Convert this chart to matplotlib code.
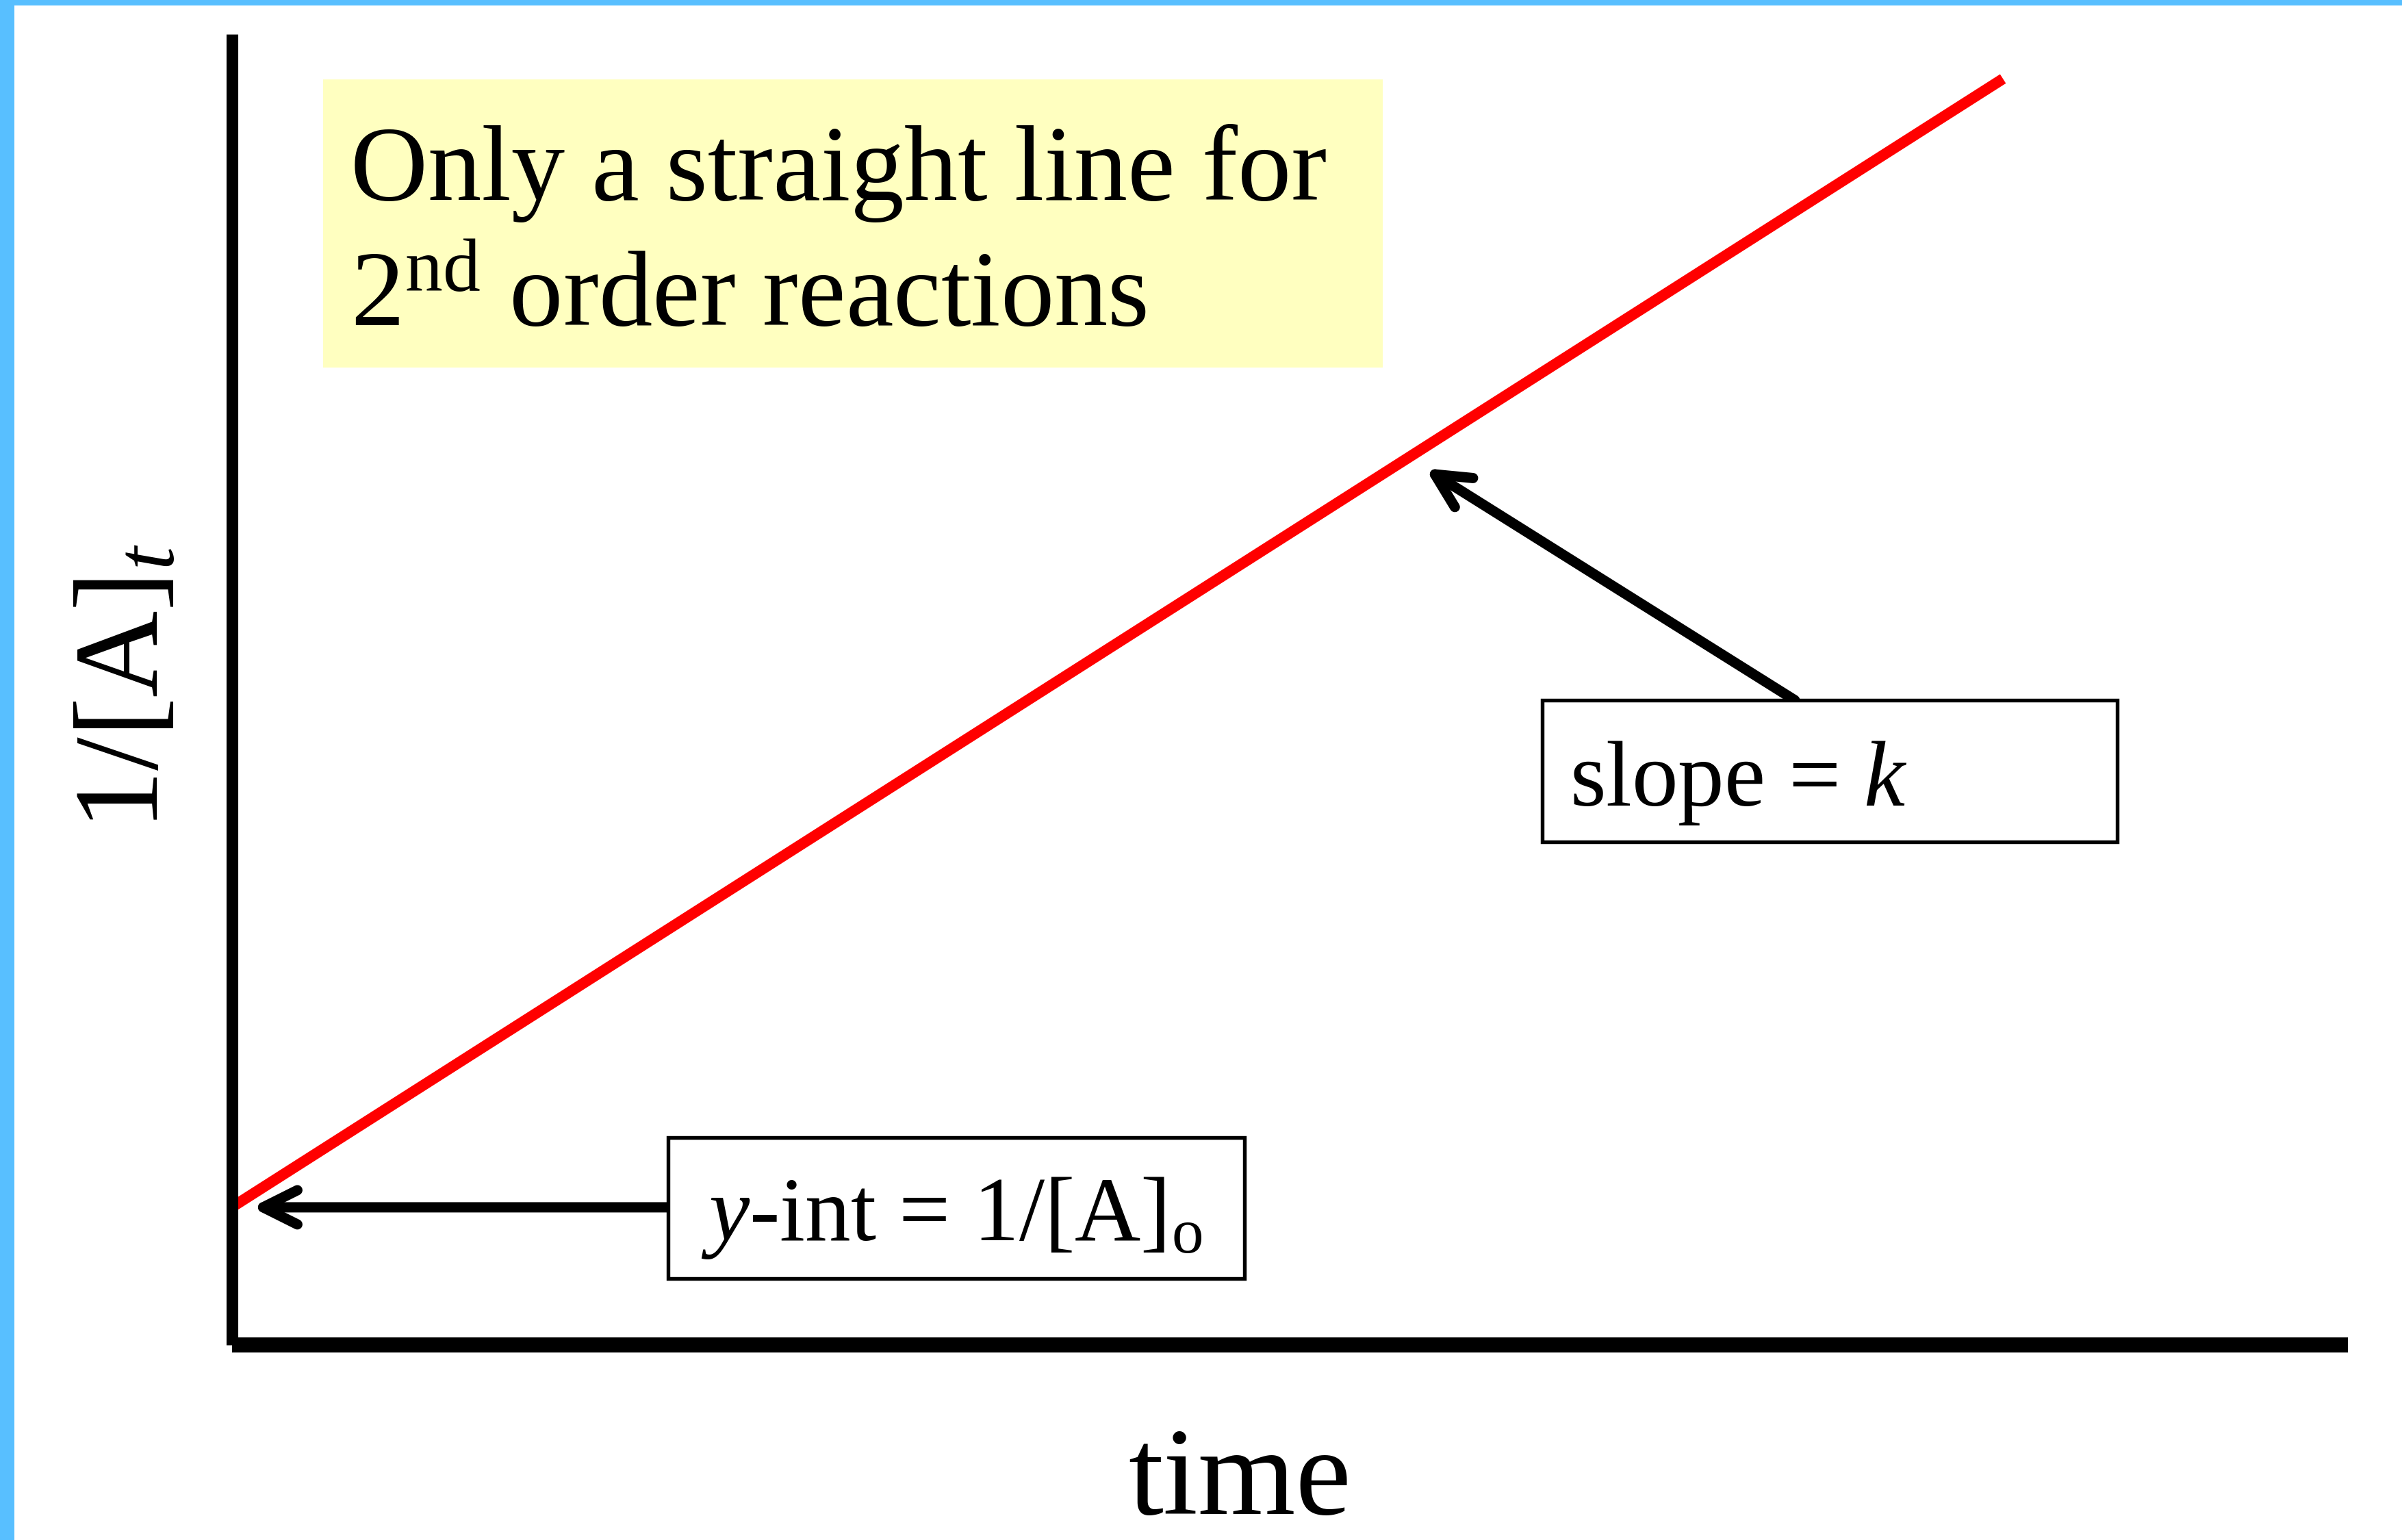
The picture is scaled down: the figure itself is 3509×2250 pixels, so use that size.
import numpy as np
import matplotlib
matplotlib.use('Agg')
import matplotlib.pyplot as plt
from matplotlib.patches import Rectangle

plt.rcParams['font.family'] = 'Liberation Serif'
plt.rcParams['mathtext.fontset'] = 'custom'
plt.rcParams['mathtext.rm'] = 'Liberation Serif'
plt.rcParams['mathtext.it'] = 'Liberation Serif:italic'

# values (both axes run 0..10, no ticks)
time = [0.0, 8.37]
inv_A = [1.05, 9.66]
slope_pointer_time = 5.56

title_lines = ['Only a straight line for', '$2^{\\mathrm{nd}}$ order reactions']
slope_label = 'slope = $k$'
yint_label = '$y$-int = 1/[A$]_{\\mathrm{o}}$'
x_label = 'time'
y_label = '1/[A$]_{t}$'

W, H = 3509, 2250
DPI = 300


def fpos(x, y):
    # pixel position measured from top left -> figure fraction
    return x / W, 1 - y / H


fig = plt.figure(figsize=(W / DPI, H / DPI), dpi=DPI)
fig.patch.set_facecolor('white')

# light blue frame on the left and top
fig.add_artist(Rectangle((0, 0), 21 / W, 1, transform=fig.transFigure,
                         facecolor='#58BFFF', edgecolor='none', zorder=0))
fig.add_artist(Rectangle((0, 1 - 8 / H), 1, 8 / H, transform=fig.transFigure,
                         facecolor='#58BFFF', edgecolor='none', zorder=0))

# axes
x0, x1 = 338.5, 3430
y0, y1 = 1965, 50
ax = fig.add_axes([x0 / W, 1 - y0 / H, (x1 - x0) / W, (y0 - y1) / H])
ax.set_xlim(0, 10)
ax.set_ylim(0, 10)
ax.patch.set_alpha(0)
for s in ['top', 'right']:
    ax.spines[s].set_visible(False)
ax.spines['left'].set_linewidth(4.1)
ax.spines['bottom'].set_linewidth(5.3)
for s in ['left', 'bottom']:
    ax.spines[s].set_capstyle('butt')
ax.set_xticks([])
ax.set_yticks([])

ax.plot(time, inv_A, color='#FF0000', lw=3.8, solid_capstyle='butt', clip_on=False)

# yellow note
ll = fpos(472, 537)
fig.add_artist(Rectangle(ll, 1548 / W, 421 / H, transform=fig.transFigure,
                         facecolor='#FFFFC0', edgecolor='none', zorder=1))
fig.text(*fpos(512, 292), title_lines[0], fontsize=37.6, ha='left', va='baseline', zorder=2)
fig.text(*fpos(512, 477), title_lines[1], fontsize=37.6, ha='left', va='baseline', zorder=2)

arrow_kw = dict(arrowstyle='->,head_length=0.6,head_width=0.3', mutation_scale=20,
                lw=3.6, color='black', shrinkA=0, shrinkB=7)

# slope box + arrow
fig.add_artist(Rectangle(fpos(2253, 1230), 840 / W, 207 / H, transform=fig.transFigure,
                         facecolor='white', edgecolor='black', lw=1.3, zorder=3))
fig.text(*fpos(2293, 1177), slope_label, fontsize=32.5, ha='left', va='baseline', zorder=4)
ax.annotate('', xy=(slope_pointer_time, np.interp(slope_pointer_time, time, inv_A)),
            xycoords='data', xytext=fpos(2622, 1023), textcoords='figure fraction',
            arrowprops=arrow_kw, annotation_clip=False)

# y-intercept box + arrow
fig.add_artist(Rectangle(fpos(976, 1868), 842 / W, 206 / H, transform=fig.transFigure,
                         facecolor='white', edgecolor='black', lw=1.3, zorder=3))
fig.text(*fpos(1024, 1812), yint_label, fontsize=32, ha='left', va='baseline', zorder=4)
ax.annotate('', xy=(time[0], inv_A[0]), xycoords='data',
            xytext=(2.06, inv_A[0]), textcoords='data',
            arrowprops=arrow_kw, annotation_clip=False)

# axis labels
fig.text(*fpos(1811, 2212), x_label, fontsize=44, ha='center', va='baseline')
fig.text(*fpos(230, 1213), y_label, fontsize=42, rotation=90, rotation_mode='anchor',
         ha='left', va='baseline')

fig.savefig('out.png', dpi=DPI)
